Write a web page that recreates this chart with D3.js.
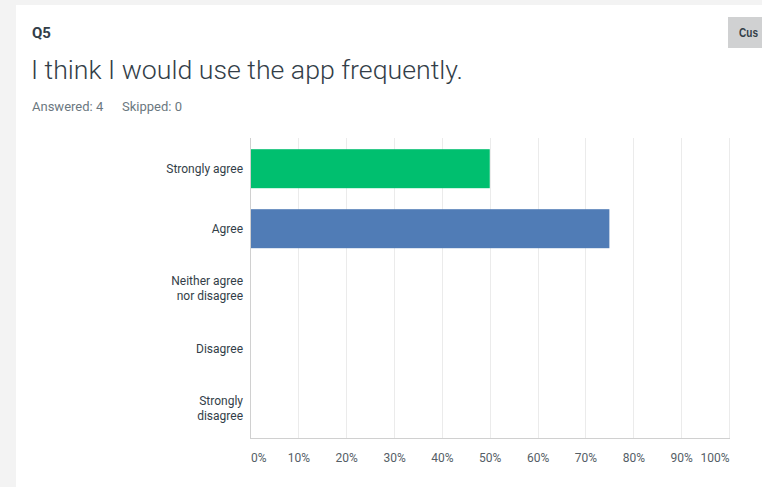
<!DOCTYPE html>
<html><head><meta charset="utf-8">
<script src="https://cdn.jsdelivr.net/npm/d3@7/dist/d3.min.js"></script>
<style>
html,body{margin:0;padding:0;background:#f3f3f3;}
svg{display:block;}
</style></head>
<body>
<svg id="chart" width="762" height="487"></svg>
<script>
const categories = ["Strongly agree", "Agree", "Neither agree\nnor disagree", "Disagree", "Strongly\ndisagree"];
const values = [50, 75, 0, 0, 0];
const barColors = ["#00bf6f", "#507cb6", "#6bc8cd", "#f05b24", "#dbd9d9"];
const tickValues = [0, 10, 20, 30, 40, 50, 60, 70, 80, 90, 100];
const questionNum = "Q5";
const questionTitle = "I think I would use the app frequently.";
const answered = 4, skipped = 0;

const svg = d3.select("#chart");
const font = "Roboto, 'Open Sans', sans-serif";

// card
svg.append("rect").attr("x", 16).attr("y", 5).attr("width", 746).attr("height", 482)
  .attr("fill", "#fff");

// button (cut off at the right edge, as in the reference)
svg.append("rect").attr("x", 728).attr("y", 17).attr("width", 34).attr("height", 31)
  .attr("fill", "#d0d1d2");
svg.append("text").attr("x", 739).attr("y", 37).text("Cus")
  .attr("textLength", 19).attr("lengthAdjust", "spacingAndGlyphs")
  .attr("font-family", "'Liberation Sans', Arial, sans-serif").attr("font-weight", "bold")
  .attr("font-size", 13).attr("fill", "#333e48");

svg.append("text").attr("x", 32).attr("y", 38).text(questionNum)
  .attr("font-family", font).attr("font-weight", 700).attr("font-size", 15).attr("fill", "#333e48");
svg.append("text").attr("x", 31).attr("y", 79).text(questionTitle)
  .attr("font-family", font).attr("font-weight", 300).attr("font-size", 26.7).attr("fill", "#333e48");
svg.append("text").attr("x", 32).attr("y", 111).text("Answered: " + answered)
  .attr("font-family", font).attr("font-size", 13).attr("fill", "#6b787f");
svg.append("text").attr("x", 122).attr("y", 111).text("Skipped: " + skipped)
  .attr("font-family", font).attr("font-size", 13).attr("fill", "#6b787f");

const x = d3.scaleLinear().domain([0, 100]).range([250.5, 729]);
const y = d3.scaleBand().domain(categories).range([138.7, 438.7]).paddingInner(0.35).paddingOuter(0.175);

const g = svg.append("g");
// gridlines
g.selectAll("line.grid").data(tickValues.slice(1)).join("line")
  .attr("class", "grid")
  .attr("x1", d => Math.round(x(d)) + 0.5).attr("x2", d => Math.round(x(d)) + 0.5)
  .attr("y1", 138).attr("y2", 438)
  .attr("stroke", "#ebebeb").attr("stroke-width", 1);

// bars
g.selectAll("rect.bar").data(values).join("rect")
  .attr("class", "bar")
  .attr("x", x(0)).attr("y", (d, i) => y(categories[i]))
  .attr("width", d => x(d) - x(0)).attr("height", y.bandwidth())
  .attr("fill", (d, i) => barColors[i]);

// axis lines
g.append("line").attr("x1", 250.5).attr("x2", 250.5).attr("y1", 138).attr("y2", 439)
  .attr("stroke", "#d0d0d0");
g.append("line").attr("x1", 250).attr("x2", 730).attr("y1", 438.5).attr("y2", 438.5)
  .attr("stroke", "#d0d0d0");

// x tick labels
const xAxis = d3.axisBottom(x).tickValues(tickValues).tickFormat(d => d + "%").tickSize(0).tickPadding(0);
const ax = svg.append("g").attr("transform", "translate(0,453)").call(xAxis);
ax.select(".domain").remove();
ax.selectAll("text").attr("font-family", font).attr("font-size", 12).attr("fill", "#555e66")
  .attr("dy", "0.71em");
ax.selectAll(".tick").filter(d => d === 0).select("text").attr("text-anchor", "start");
ax.selectAll(".tick").filter(d => d === 100).select("text").attr("text-anchor", "end");

// y labels
const yl = svg.append("g");
categories.forEach(c => {
  const lines = c.split("\n");
  const cy = y(c) + y.bandwidth() / 2;
  const t = yl.append("text").attr("text-anchor", "end")
    .attr("font-family", font).attr("font-size", 12).attr("fill", "#333e48");
  lines.forEach((l, i) => {
    t.append("tspan").attr("x", 243)
      .attr("y", cy + (i - (lines.length - 1) / 2) * 15)
      .attr("dy", "0.35em").text(l);
  });
});
</script>
</body></html>
